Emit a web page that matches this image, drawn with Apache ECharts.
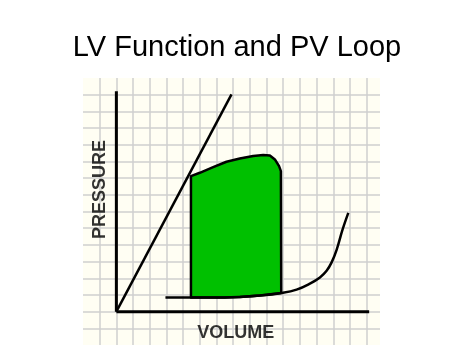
<!DOCTYPE html>
<html>
<head>
<meta charset="utf-8">
<title>LV Function and PV Loop</title>
<script src="https://cdn.jsdelivr.net/npm/echarts@6/dist/echarts.min.js"></script>
<style>
  html, body { margin: 0; padding: 0; background: #fff; }
  #chart { width: 474px; height: 355px; }
</style>
</head>
<body>
<div id="chart"></div>
<script>
var titleText = 'LV Function and PV Loop';
var xLabel = 'VOLUME';
var yLabel = 'PRESSURE';

// the two drawn axes, in grid squares from the origin
var volumeAxis = [[0, 0], [15.15, 0]];
var pressureAxis = [[0, 0], [0, 13.2]];

// straight end-systolic line
var espvr = [[0, 0], [6.9, 13.02]];

// filling curve along the bottom
var edpvr = [[2.94, 0.85], [6.5, 0.85], [7.4, 0.88], [8.6, 0.96], [9.9, 1.12], [10.8, 1.32],
  [11.6, 1.68], [12.2, 2.05], [12.6, 2.45], [12.9, 2.95], [13.2, 3.7], [13.55, 4.9], [13.9, 5.92]];

// the green loop, going round clockwise from bottom left
var loop = [[4.47, 0.85], [4.47, 8.12], [5.0, 8.32], [5.8, 8.66], [6.6, 8.98], [7.4, 9.18],
  [8.2, 9.32], [8.8, 9.38], [9.2, 9.36], [9.5, 9.12], [9.75, 8.72], [9.86, 8.42],
  [9.88, 1.12], [8.6, 0.96], [7.4, 0.88], [6.5, 0.85]];

var chart = echarts.init(document.getElementById('chart'));

var gridLine = {
  show: true,
  showMinLine: false,
  showMaxLine: false,
  lineStyle: { color: '#cfcfcf', width: 1.5 }
};

function blackLine(data, width, smooth) {
  return {
    type: 'line',
    data: data,
    symbol: 'none',
    smooth: smooth || false,
    lineStyle: { color: '#000', width: width },
    z: 5,
    silent: true
  };
}

var option = {
  animation: false,
  title: {
    text: titleText,
    left: 'center',
    top: 28,
    textStyle: {
      fontSize: 29,
      fontWeight: 'normal',
      fontFamily: 'Liberation Sans',
      color: '#000'
    }
  },
  grid: {
    left: 83,
    right: 94,
    top: 78,
    bottom: 10,
    show: true,
    backgroundColor: '#fffef3',
    borderWidth: 0
  },
  xAxis: {
    type: 'value',
    min: -2,
    max: 15.8,
    interval: 1,
    axisLine: { show: false },
    axisTick: { show: false },
    axisLabel: { show: false },
    splitLine: gridLine
  },
  yAxis: {
    type: 'value',
    min: -2,
    max: 14,
    interval: 1,
    axisLine: { show: false },
    axisTick: { show: false },
    axisLabel: { show: false },
    splitLine: gridLine
  },
  series: [
    {
      type: 'custom',
      data: loop,
      z: 3,
      silent: true,
      renderItem: function (params, api) {
        if (params.dataIndex !== 0) {
          return;
        }
        var points = loop.map(function (p) { return api.coord(p); });
        return {
          type: 'polygon',
          shape: { points: points },
          style: { fill: '#00c000', stroke: '#000', lineWidth: 2.5, lineJoin: 'round' }
        };
      }
    },
    blackLine(volumeAxis, 3),
    blackLine(pressureAxis, 3),
    blackLine(espvr, 2.5),
    blackLine(edpvr, 2.5, 0.4),
    {
      type: 'scatter',
      symbolSize: 1,
      itemStyle: { color: 'transparent' },
      silent: true,
      label: {
        show: true,
        position: 'inside',
        formatter: '{b}',
        fontSize: 18,
        fontWeight: 'bold',
        fontFamily: 'Liberation Sans',
        color: '#000',
        textBorderWidth: 0
      },
      data: [
        { name: yLabel, value: [-1.0, 7.32], label: { rotate: 90 } },
        { name: xLabel, value: [7.16, -1.28] }
      ]
    }
  ]
};

chart.setOption(option);
</script>
</body>
</html>
